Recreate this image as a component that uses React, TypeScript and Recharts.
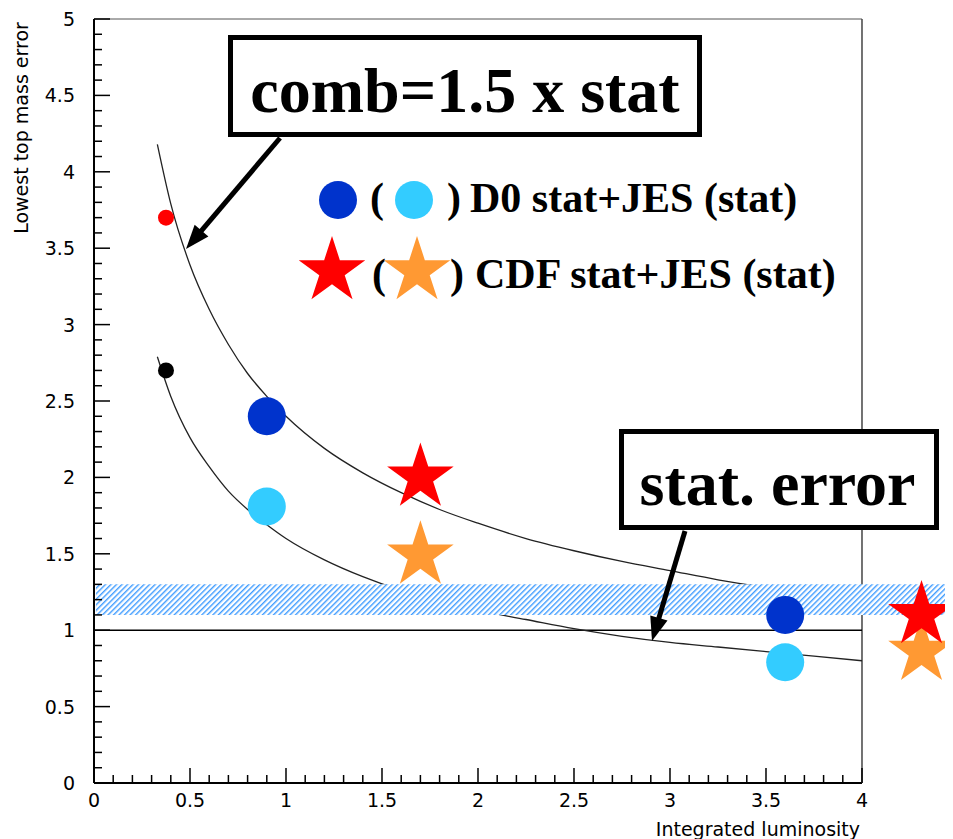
import React from 'react';
import { ComposedChart, XAxis, YAxis, Line, Scatter, ReferenceLine, ReferenceArea } from 'recharts';

// ---- data ----
const X_LABEL = 'Integrated luminosity';
const Y_LABEL = 'Lowest top mass error';

const LUMI_GRID = [0.33, 0.4, 0.5, 0.6, 0.7, 0.8, 0.9, 1.0, 1.2, 1.4, 1.6, 1.8, 2.0, 2.25, 2.5, 2.75, 3.0, 3.25, 3.5, 3.75, 4.0];
const COMB_CURVE = [4.18, 3.79, 3.39, 3.1, 2.87, 2.68, 2.53, 2.4, 2.19, 2.03, 1.9, 1.79, 1.7, 1.6, 1.52, 1.45, 1.39, 1.33, 1.28, 1.24, 1.2];
const STAT_CURVE = [2.79, 2.53, 2.26, 2.07, 1.91, 1.79, 1.69, 1.6, 1.46, 1.35, 1.26, 1.19, 1.13, 1.07, 1.01, 0.96, 0.92, 0.89, 0.86, 0.83, 0.8];

const D0_COMB = [{ x: 0.9, y: 2.4 }, { x: 3.6, y: 1.1 }];
const D0_STAT = [{ x: 0.9, y: 1.81 }, { x: 3.6, y: 0.79 }];
const CDF_COMB = [{ x: 1.7, y: 2.0 }, { x: 4.31, y: 1.1 }];
const CDF_STAT = [{ x: 1.7, y: 1.49 }, { x: 4.31, y: 0.86 }];
const EARLY_COMB = [{ x: 0.375, y: 3.7 }];
const EARLY_STAT = [{ x: 0.375, y: 2.7 }];

const STAT_BAND = { y1: 1.1, y2: 1.3 };
const STAT_LINE = 1;

const X_TICKS = Array.from({ length: 41 }, (_, i) => i / 10);
const Y_TICKS = Array.from({ length: 51 }, (_, i) => i / 10);

const COMB_DATA = LUMI_GRID.map((x, i) => ({ x, y: COMB_CURVE[i] }));
const STAT_DATA = LUMI_GRID.map((x, i) => ({ x, y: STAT_CURVE[i] }));

// ---- layout ----
const W = 945;
const H = 831;
const X_MAX = 4.474;
const SANS = 'DejaVu Sans';
const SERIF = 'Liberation Serif';

const DARK_BLUE = '#0033cc';
const LIGHT_BLUE = '#33ccff';
const RED = '#ff0000';
const ORANGE = '#ff9933';

const isMajor = (v: number) => Math.abs(v * 2 - Math.round(v * 2)) < 1e-9;

const XTick = (props: any) => {
  const { x, y, payload } = props;
  const v = payload.value as number;
  const major = isMajor(v);
  return (
    <g>
      <line x1={x} x2={x} y1={y} y2={y - (major ? 15 : 8)} stroke="#000" strokeWidth={1.5} />
      {major && (
        <text x={x} y={y + 24} textAnchor="middle" fontFamily={SANS} fontSize={19} fill="#000">
          {String(v)}
        </text>
      )}
    </g>
  );
};

const YTick = (props: any) => {
  const { x, y, payload } = props;
  const v = payload.value as number;
  const major = isMajor(v);
  return (
    <g>
      <line x1={x} x2={x + (major ? 16 : 8)} y1={y} y2={y} stroke="#000" strokeWidth={1.5} />
      {major && (
        <text x={x - 19} y={y + 7} textAnchor="end" fontFamily={SANS} fontSize={19} fill="#000">
          {String(v)}
        </text>
      )}
    </g>
  );
};

const starPoints = (cx: number, cy: number, R: number) => {
  const r = R * 0.382;
  const pts: string[] = [];
  for (let i = 0; i < 10; i++) {
    const ang = -Math.PI / 2 + (i * Math.PI) / 5;
    const rad = i % 2 === 0 ? R : r;
    pts.push(`${cx + rad * Math.cos(ang)},${cy + rad * Math.sin(ang)}`);
  }
  return pts.join(' ');
};

const circleShape = (fill: string, r: number) => (p: any) => <circle cx={p.cx} cy={p.cy} r={r} fill={fill} />;
const starShape = (fill: string, R: number) => (p: any) => <polygon points={starPoints(p.cx, p.cy, R)} fill={fill} />;

const Arrow = ({ x1, y1, x2, y2 }: { x1: number; y1: number; x2: number; y2: number }) => {
  const dx = x2 - x1;
  const dy = y2 - y1;
  const len = Math.hypot(dx, dy);
  const ux = dx / len;
  const uy = dy / len;
  const hl = 24;
  const hw = 9;
  const bx = x2 - ux * hl;
  const by = y2 - uy * hl;
  return (
    <g>
      <line x1={x1} y1={y1} x2={bx + ux * 2} y2={by + uy * 2} stroke="#000" strokeWidth={5} />
      <polygon points={`${x2},${y2} ${bx - uy * hw},${by + ux * hw} ${bx + uy * hw},${by - ux * hw}`} fill="#000" />
    </g>
  );
};

export default function App() {
  return (
    <div style={{ position: 'relative', width: W, height: H, background: '#fff' }}>
      <svg width={0} height={0} style={{ position: 'absolute' }}>
        <defs>
          <pattern id="hatch" width={3.9} height={3.9} patternUnits="userSpaceOnUse" patternTransform="rotate(45)">
            <rect width={3.9} height={3.9} fill="#ffffff" />
            <rect width={1.4} height={3.9} fill="#3d9bff" />
          </pattern>
        </defs>
      </svg>
      <ComposedChart width={W} height={H} margin={{ top: 11, right: 0, bottom: 0, left: 0 }}>
        <XAxis
          type="number"
          dataKey="x"
          domain={[0, X_MAX]}
          ticks={X_TICKS}
          interval={0}
          height={56}
          axisLine={false}
          tickLine={false}
          tickSize={0}
          tickMargin={0}
          tick={<XTick />}
        />
        <YAxis
          type="number"
          dataKey="y"
          domain={[0, 5]}
          ticks={Y_TICKS}
          interval={0}
          width={86}
          axisLine={{ stroke: '#000', strokeWidth: 2 }}
          tickLine={false}
          tickSize={0}
          tickMargin={0}
          tick={<YTick />}
        />
        <ReferenceLine segment={[{ x: 0, y: 0 }, { x: 4, y: 0 }]} stroke="#000" strokeWidth={2} />
        <ReferenceLine segment={[{ x: 0, y: 5 }, { x: 4, y: 5 }]} stroke="#555" strokeWidth={1} />
        <ReferenceLine segment={[{ x: 4, y: 0 }, { x: 4, y: 5 }]} stroke="#444" strokeWidth={1.5} />
        <ReferenceLine segment={[{ x: 0, y: STAT_LINE }, { x: 4, y: STAT_LINE }]} stroke="#000" strokeWidth={1.5} />
        <Line data={COMB_DATA} dataKey="y" type="monotone" stroke="#222" strokeWidth={1.3} dot={false} isAnimationActive={false} />
        <Line data={STAT_DATA} dataKey="y" type="monotone" stroke="#222" strokeWidth={1.3} dot={false} isAnimationActive={false} />
        <ReferenceArea
          x1={0.01}
          x2={X_MAX}
          y1={STAT_BAND.y1}
          y2={STAT_BAND.y2}
          fill="url(#hatch)"
          fillOpacity={1}
          stroke="none"
          {...({ zIndex: 450 } as any)}
        />
        <Scatter data={EARLY_COMB} shape={circleShape(RED, 8)} isAnimationActive={false} />
        <Scatter data={EARLY_STAT} shape={circleShape('#000', 8)} isAnimationActive={false} />
        <Scatter data={D0_COMB} shape={circleShape(DARK_BLUE, 19)} isAnimationActive={false} />
        <Scatter data={D0_STAT} shape={circleShape(LIGHT_BLUE, 19)} isAnimationActive={false} />
        <Scatter data={CDF_STAT} shape={starShape(ORANGE, 35)} isAnimationActive={false} />
        <Scatter data={CDF_COMB} shape={starShape(RED, 35)} isAnimationActive={false} />
      </ComposedChart>
      <svg width={W} height={H} style={{ position: 'absolute', left: 0, top: 0, pointerEvents: 'none' }}>
        <text transform="translate(20,120) rotate(-90)" textAnchor="middle" fontFamily={SANS} fontSize={19} fill="#000">
          {Y_LABEL}
        </text>
        <text x={852} y={828} textAnchor="end" fontFamily={SANS} fontSize={19} fill="#000">
          {X_LABEL}
        </text>

        <rect x={222.5} y={29.5} width={469} height={97} fill="#fff" stroke="#000" strokeWidth={5} />
        <text x={457} y={104} textAnchor="middle" fontFamily={SERIF} fontWeight="bold" fontSize={64} fill="#000">
          comb=1.5 x stat
        </text>
        <Arrow x1={272} y1={130} x2={178} y2={241} />

        <rect x={613.5} y={423.5} width={315} height={96} fill="#fff" stroke="#000" strokeWidth={5} />
        <text x={769.5} y={497} textAnchor="middle" fontFamily={SERIF} fontWeight="bold" fontSize={64} fill="#000">
          stat. error
        </text>
        <Arrow x1={677} y1={523} x2={644} y2={633} />

        <g fontFamily={SERIF} fontWeight="bold" fontSize={42} fill="#000">
          <text x={362} y={204}>(</text>
          <text x={439} y={204}>)</text>
          <text x={462} y={204}>D0 stat+JES (stat)</text>
          <text x={364} y={280}>(</text>
          <text x={442} y={280}>)</text>
          <text x={467} y={280}>CDF stat+JES (stat)</text>
        </g>
        <circle cx={330} cy={192} r={19} fill={DARK_BLUE} />
        <circle cx={406} cy={192} r={19} fill={LIGHT_BLUE} />
        <polygon points={starPoints(324, 263, 35)} fill={RED} />
        <polygon points={starPoints(409, 263, 35)} fill={ORANGE} />
      </svg>
    </div>
  );
}
